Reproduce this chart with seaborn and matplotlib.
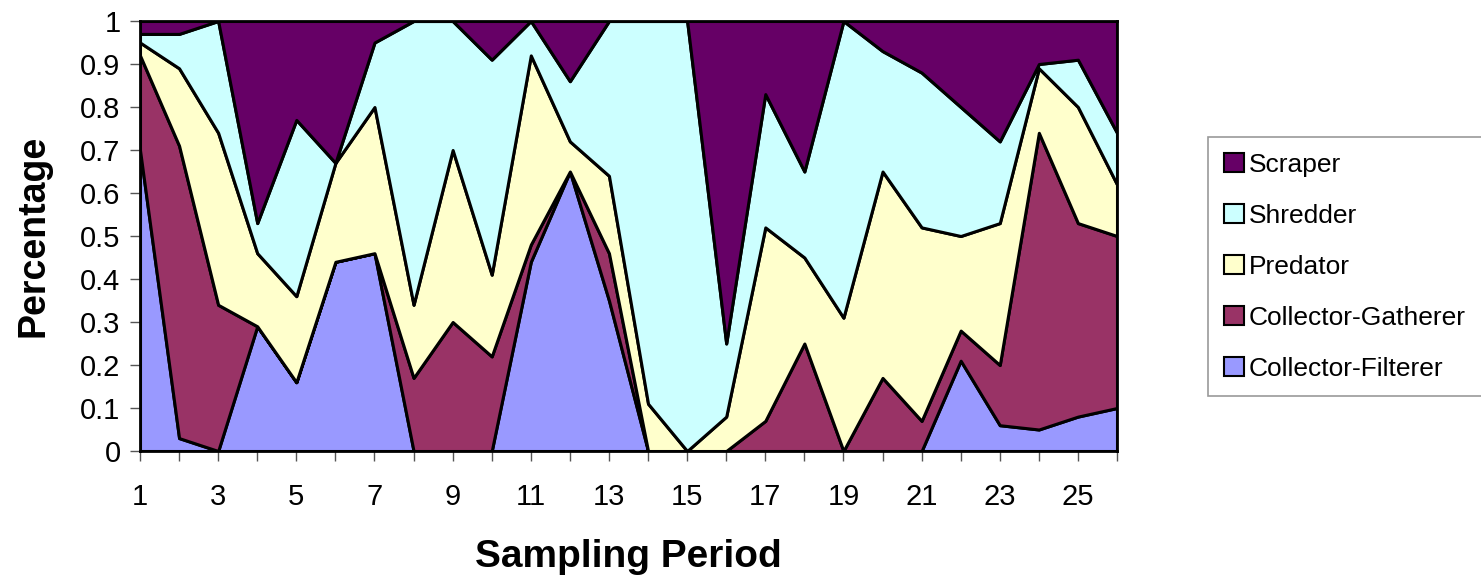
import matplotlib
matplotlib.use("Agg")
import matplotlib.pyplot as plt
import seaborn as sns
import numpy as np
from matplotlib.patches import Patch

periods = list(range(1, 27))
collector_filterer = [0.70, 0.03, 0.00, 0.29, 0.16, 0.44, 0.46, 0.00, 0.00, 0.00, 0.44, 0.65, 0.35,
                      0.00, 0.00, 0.00, 0.00, 0.00, 0.00, 0.00, 0.00, 0.21, 0.06, 0.05, 0.08, 0.10]
collector_gatherer = [0.22, 0.68, 0.34, 0.00, 0.00, 0.00, 0.00, 0.17, 0.30, 0.22, 0.04, 0.00, 0.11,
                      0.00, 0.00, 0.00, 0.07, 0.25, 0.00, 0.17, 0.07, 0.07, 0.14, 0.69, 0.45, 0.40]
predator = [0.03, 0.18, 0.40, 0.17, 0.20, 0.23, 0.34, 0.17, 0.40, 0.19, 0.44, 0.07, 0.18,
            0.11, 0.00, 0.08, 0.45, 0.20, 0.31, 0.48, 0.45, 0.22, 0.33, 0.15, 0.27, 0.12]
shredder = [0.02, 0.08, 0.26, 0.07, 0.41, 0.00, 0.15, 0.66, 0.30, 0.50, 0.08, 0.14, 0.36,
            0.89, 1.00, 0.17, 0.31, 0.20, 0.69, 0.28, 0.36, 0.30, 0.19, 0.01, 0.11, 0.12]
scraper = [0.03, 0.03, 0.00, 0.47, 0.23, 0.33, 0.05, 0.00, 0.00, 0.09, 0.00, 0.14, 0.00,
           0.00, 0.00, 0.75, 0.17, 0.35, 0.00, 0.07, 0.12, 0.20, 0.28, 0.10, 0.09, 0.26]

series_names = ["Collector-Filterer", "Collector-Gatherer", "Predator", "Shredder", "Scraper"]
series_colors = ["#9999FF", "#993366", "#FFFFCC", "#CCFFFF", "#660066"]

sns.set_theme(style="white")
plt.rcParams['font.family'] = ['Liberation Sans', 'DejaVu Sans']
plt.rcParams['text.color'] = 'black'
plt.rcParams['axes.labelcolor'] = 'black'

fig = plt.figure(figsize=(14.81, 5.78), dpi=100)
ax = fig.add_axes([140/1481, 127/578, 977/1481, 430/578])

ax.stackplot(periods, collector_filterer, collector_gatherer, predator, shredder, scraper,
             colors=series_colors, edgecolor="black", linewidth=2.2, labels=series_names)

ax.set_xlim(1, 26)
ax.set_ylim(0, 1)
ax.set_xticks(periods)
ax.set_xticklabels([str(p) if p % 2 == 1 else "" for p in periods])
yt = np.round(np.arange(0, 1.01, 0.1), 1)
ax.set_yticks(yt)
ax.set_yticklabels(["0" if v == 0 else ("1" if v == 1 else f"{v:.1f}") for v in yt])
ax.tick_params(axis="both", which="major", direction="out", length=7, width=1,
               color="#555555", labelsize=21, labelcolor="black", bottom=True, left=True)
ax.tick_params(axis="x", pad=16)
ax.tick_params(axis="y", pad=7)
for s in ax.spines.values():
    s.set_color("black")
    s.set_linewidth(2)

ax.set_xlabel("Sampling Period", fontsize=28, fontweight="bold", labelpad=20, color="black")
ax.set_ylabel("Percentage", fontsize=27, fontweight="bold", labelpad=21, color="black")
ax.grid(False)

handles = [Patch(facecolor=c, edgecolor="black", linewidth=1.5, label=n)
           for n, c in zip(series_names[::-1], series_colors[::-1])]
leg = fig.legend(handles=handles, loc="upper left", bbox_to_anchor=(1208/1481, 1 - 137/578),
                 frameon=True, fontsize=19, handlelength=0.75, handleheight=0.75,
                 handletextpad=0.2, labelspacing=1.02, borderpad=0.6, fancybox=False,
                 borderaxespad=0, labelcolor="black")
leg.get_frame().set_edgecolor("#808080")
leg.get_frame().set_linewidth(1.2)

fig.savefig("out.png", dpi=100)
